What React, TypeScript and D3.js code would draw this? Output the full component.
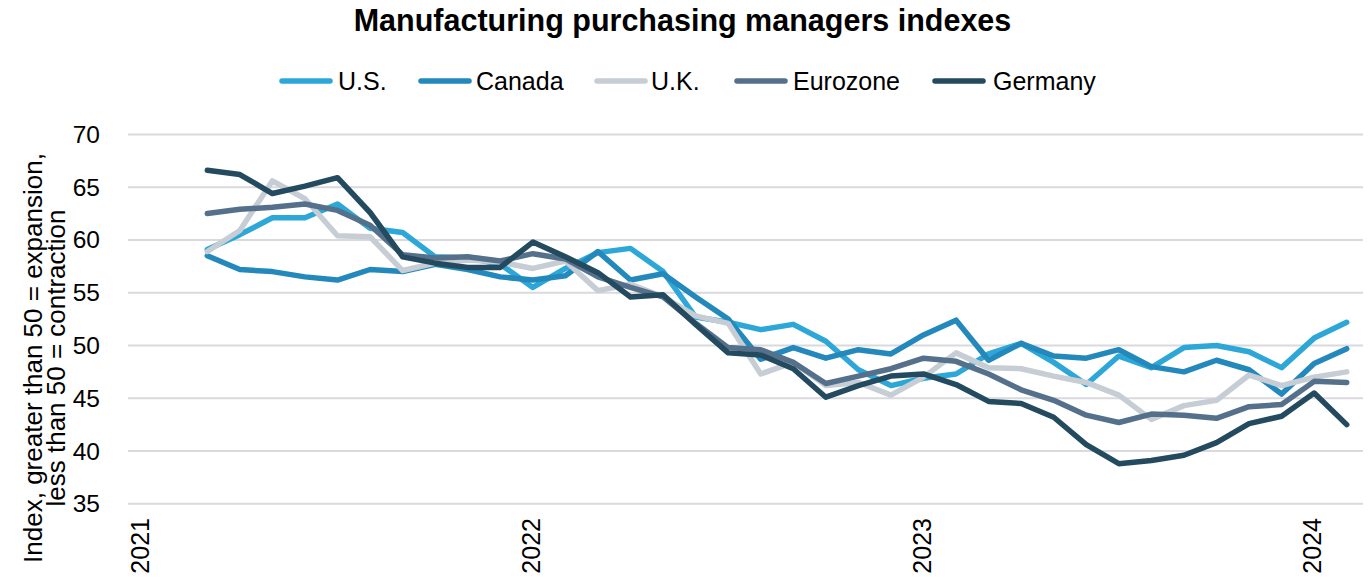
import React from "react";
import * as d3 from "d3";

const title = "Manufacturing purchasing managers indexes";

const months = [
  "2021-03", "2021-04", "2021-05", "2021-06", "2021-07", "2021-08", "2021-09", "2021-10", "2021-11", "2021-12",
  "2022-01", "2022-02", "2022-03", "2022-04", "2022-05", "2022-06", "2022-07", "2022-08", "2022-09", "2022-10", "2022-11", "2022-12",
  "2023-01", "2023-02", "2023-03", "2023-04", "2023-05", "2023-06", "2023-07", "2023-08", "2023-09", "2023-10", "2023-11", "2023-12",
  "2024-01", "2024-02",
];

const usValues = [59.1, 60.5, 62.1, 62.1, 63.4, 61.1, 60.7, 58.4, 58.3, 57.7, 55.5, 57.3, 58.8, 59.2, 57.0, 52.7, 52.2, 51.5, 52.0, 50.4, 47.7, 46.2, 46.9, 47.3, 49.2, 50.2, 48.4, 46.3, 49.0, 47.9, 49.8, 50.0, 49.4, 47.9, 50.7, 52.2];
const canadaValues = [58.5, 57.2, 57.0, 56.5, 56.2, 57.2, 57.0, 57.7, 57.2, 56.5, 56.2, 56.6, 58.9, 56.2, 56.8, 54.6, 52.5, 48.7, 49.8, 48.8, 49.6, 49.2, 51.0, 52.4, 48.6, 50.2, 49.0, 48.8, 49.6, 48.0, 47.5, 48.6, 47.7, 45.4, 48.3, 49.7];
const ukValues = [58.9, 60.9, 65.6, 63.9, 60.4, 60.3, 57.1, 57.8, 58.1, 57.9, 57.3, 58.0, 55.2, 55.8, 54.6, 52.8, 52.1, 47.3, 48.4, 46.2, 46.5, 45.3, 47.0, 49.3, 47.9, 47.8, 47.1, 46.5, 45.3, 43.0, 44.3, 44.8, 47.2, 46.2, 47.0, 47.5];
const eurozoneValues = [62.5, 62.9, 63.1, 63.4, 62.8, 61.4, 58.6, 58.3, 58.4, 58.0, 58.7, 58.2, 56.5, 55.5, 54.6, 52.1, 49.8, 49.6, 48.4, 46.4, 47.1, 47.8, 48.8, 48.5, 47.3, 45.8, 44.8, 43.4, 42.7, 43.5, 43.4, 43.1, 44.2, 44.4, 46.6, 46.5];
const germanyValues = [66.6, 66.2, 64.4, 65.1, 65.9, 62.6, 58.4, 57.8, 57.4, 57.4, 59.8, 58.4, 56.9, 54.6, 54.8, 52.0, 49.3, 49.1, 47.8, 45.1, 46.2, 47.1, 47.3, 46.3, 44.7, 44.5, 43.2, 40.6, 38.8, 39.1, 39.6, 40.8, 42.6, 43.3, 45.5, 42.5];

const seriesNames = ["U.S.", "Canada", "U.K.", "Eurozone", "Germany"];
const seriesColors = ["#2ca7d8", "#2389bd", "#c6cdd4", "#55708b", "#234a5f"];
const seriesValues = [usValues, canadaValues, ukValues, eurozoneValues, germanyValues];

const yTicks = [35, 40, 45, 50, 55, 60, 65, 70];
const yearTicks = ["2021", "2022", "2023", "2024"];

const FONT = "'Liberation Sans', Arial, sans-serif";

function monthIndex(m: string): number {
  const [y, mo] = m.split("-").map(Number);
  return (y - 2021) * 12 + (mo - 1);
}

export default function App() {
  const W = 1371;
  const H = 581;
  const x = d3.scaleLinear().domain([-0.436, 37.5]).range([128, 1363]);
  const y = d3.scaleLinear().domain([35, 70]).range([503.8, 134.4]);

  const line = d3
    .line<number>()
    .x((_, i) => x(monthIndex(months[i])))
    .y((v) => y(v));

  const legendItems = [
    { lineX: 279, textX: 338 },
    { lineX: 418, textX: 476 },
    { lineX: 594, textX: 651 },
    { lineX: 734, textX: 793 },
    { lineX: 932, textX: 993 },
  ];

  return (
    <svg width={W} height={H} style={{ position: "absolute", left: 0, top: 0, background: "#fff" }}>
      <rect x={0} y={0} width={W} height={H} fill="#ffffff" />
      <text x={682.5} y={31} textAnchor="middle" fontFamily={FONT} fontWeight="bold" fontSize={30.5} fill="#000">
        {title}
      </text>

      {seriesNames.map((name, i) => (
        <g key={name}>
          <line
            x1={legendItems[i].lineX + 3}
            x2={legendItems[i].lineX + 51}
            y1={81}
            y2={81}
            stroke={seriesColors[i]}
            strokeWidth={5.5}
            strokeLinecap="round"
          />
          <text x={legendItems[i].textX} y={81} dominantBaseline="central" fontFamily={FONT} fontSize={25} fill="#000">
            {name}
          </text>
        </g>
      ))}

      {yTicks.map((t) => (
        <g key={t}>
          <line x1={128} x2={1363} y1={y(t)} y2={y(t)} stroke="#d9d9de" strokeWidth={2} />
          <text x={100} y={y(t)} textAnchor="end" dominantBaseline="central" fontFamily={FONT} fontSize={24.5} fill="#000">
            {t}
          </text>
        </g>
      ))}

      {yearTicks.map((yr) => {
        const px = x(monthIndex(yr + "-01")) - 2;
        return (
          <text
            key={yr}
            transform={`translate(${px},518) rotate(-90)`}
            textAnchor="end"
            dominantBaseline="central"
            fontFamily={FONT}
            fontSize={25}
            fill="#000"
          >
            {yr}
          </text>
        );
      })}

      <g transform="translate(0,358) rotate(-90)">
        <text x={0} y={42} textAnchor="middle" fontFamily={FONT} fontSize={26} fill="#000">
          Index, greater than 50 = expansion,
        </text>
        <text x={0} y={65} textAnchor="middle" fontFamily={FONT} fontSize={26} fill="#000">
          less than 50 = contraction
        </text>
      </g>

      {seriesValues.map((vals, i) => (
        <path
          key={seriesNames[i]}
          d={line(vals) || ""}
          fill="none"
          stroke={seriesColors[i]}
          strokeWidth={5.5}
          strokeLinejoin="round"
          strokeLinecap="round"
        />
      ))}
    </svg>
  );
}
